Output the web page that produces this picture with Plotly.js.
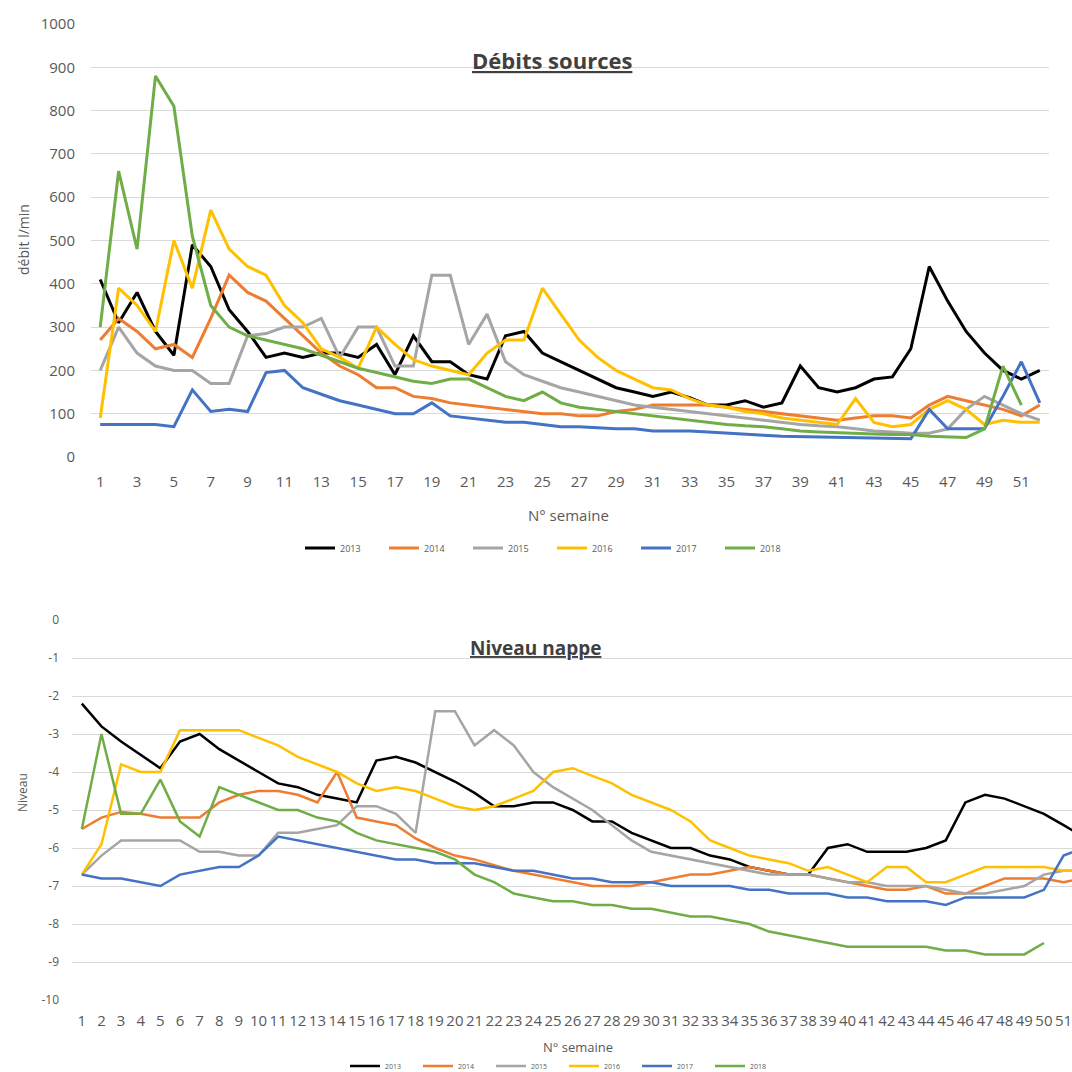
<!DOCTYPE html>
<html>
<head>
<meta charset="utf-8">
<script src="https://cdn.plot.ly/plotly-3.0.1.min.js"></script>
<style>
html, body { margin: 0; padding: 0; overflow: hidden; background: #fff; }
#chart { width: 1100px; height: 1072px; }
</style>
</head>
<body>
<div id="chart"></div>
<script>
// ---- Data ----
const weeks = [1,2,3,4,5,6,7,8,9,10,11,12,13,14,15,16,17,18,19,20,21,22,23,24,25,26,27,28,29,30,31,32,33,34,35,36,37,38,39,40,41,42,43,44,45,46,47,48,49,50,51,52];
const years = ["2013","2014","2015","2016","2017","2018"];

// Débits sources (l/min)
const deb2013 = [410,310,380,290,235,490,440,340,290,230,240,230,240,240,230,260,190,280,220,220,190,180,280,290,240,220,200,180,160,150,140,150,137,120,120,130,115,125,210,160,150,160,180,185,250,440,360,290,240,200,180,200];
const deb2014 = [270,320,290,250,260,230,320,420,380,360,320,280,240,210,190,160,160,140,135,125,120,115,110,105,100,100,95,95,105,110,120,120,120,120,115,110,105,100,95,90,85,90,95,95,90,120,140,130,120,110,95,120];
const deb2015 = [200,300,240,210,200,200,170,170,280,285,300,300,320,230,300,300,210,210,420,420,260,330,220,190,175,160,150,140,130,120,115,110,105,100,95,90,85,80,75,72,70,65,60,58,55,55,65,110,140,120,100,85];
const deb2016 = [90,390,350,290,500,390,570,480,440,420,350,310,250,230,205,300,260,225,210,200,190,240,270,270,390,330,270,230,200,180,160,155,135,120,115,105,100,90,85,80,75,135,80,70,75,110,130,110,75,85,80,80];
const deb2017 = [75,75,75,75,70,155,105,110,105,195,200,160,145,130,120,110,100,100,125,95,90,85,80,80,75,70,70,68,65,65,60,60,60,58,55,53,50,48,47,47,46,45,44,42,42,110,65,65,65,140,220,125];
const deb2018 = [300,660,480,880,810,510,350,300,280,270,260,250,235,220,205,195,185,175,170,180,180,160,140,130,150,125,115,110,105,100,95,90,85,80,75,72,70,65,60,58,56,55,53,52,52,48,47,45,65,210,120,null];

// Niveau nappe
const niv2013 = [-2.2,-2.8,-3.2,-3.55,-3.9,-3.2,-3.0,-3.4,-3.7,-4.0,-4.3,-4.4,-4.6,-4.7,-4.8,-3.7,-3.6,-3.75,-4.0,-4.25,-4.55,-4.9,-4.9,-4.8,-4.8,-5.0,-5.3,-5.3,-5.6,-5.8,-6.0,-6.0,-6.2,-6.3,-6.5,-6.6,-6.7,-6.7,-6.0,-5.9,-6.1,-6.1,-6.1,-6.0,-5.8,-4.8,-4.6,-4.7,-4.9,-5.1,-5.4,-5.7];
const niv2014 = [-5.5,-5.2,-5.05,-5.1,-5.2,-5.2,-5.2,-4.8,-4.6,-4.5,-4.5,-4.6,-4.8,-4.0,-5.2,-5.3,-5.4,-5.75,-6.0,-6.2,-6.3,-6.45,-6.6,-6.7,-6.8,-6.9,-7.0,-7.0,-7.0,-6.9,-6.8,-6.7,-6.7,-6.6,-6.5,-6.6,-6.7,-6.7,-6.8,-6.9,-7.0,-7.1,-7.1,-7.0,-7.2,-7.2,-7.0,-6.8,-6.8,-6.8,-6.9,-6.8];
const niv2015 = [-6.7,-6.2,-5.8,-5.8,-5.8,-5.8,-6.1,-6.1,-6.2,-6.2,-5.6,-5.6,-5.5,-5.4,-4.9,-4.9,-5.1,-5.6,-2.4,-2.4,-3.3,-2.9,-3.3,-4.0,-4.4,-4.7,-5.0,-5.4,-5.8,-6.1,-6.2,-6.3,-6.4,-6.5,-6.6,-6.7,-6.7,-6.7,-6.8,-6.9,-6.9,-7.0,-7.0,-7.0,-7.1,-7.2,-7.2,-7.1,-7.0,-6.7,-6.6,-6.6];
const niv2016 = [-6.7,-5.9,-3.8,-4.0,-4.0,-2.9,-2.9,-2.9,-2.9,-3.1,-3.3,-3.6,-3.8,-4.0,-4.3,-4.5,-4.4,-4.5,-4.7,-4.9,-5.0,-4.9,-4.7,-4.5,-4.0,-3.9,-4.1,-4.3,-4.6,-4.8,-5.0,-5.3,-5.8,-6.0,-6.2,-6.3,-6.4,-6.6,-6.5,-6.7,-6.9,-6.5,-6.5,-6.9,-6.9,-6.7,-6.5,-6.5,-6.5,-6.5,-6.6,-6.6];
const niv2017 = [-6.7,-6.8,-6.8,-6.9,-7.0,-6.7,-6.6,-6.5,-6.5,-6.2,-5.7,-5.8,-5.9,-6.0,-6.1,-6.2,-6.3,-6.3,-6.4,-6.4,-6.4,-6.5,-6.6,-6.6,-6.7,-6.8,-6.8,-6.9,-6.9,-6.9,-7.0,-7.0,-7.0,-7.0,-7.1,-7.1,-7.2,-7.2,-7.2,-7.3,-7.3,-7.4,-7.4,-7.4,-7.5,-7.3,-7.3,-7.3,-7.3,-7.1,-6.2,-6.0];
const niv2018 = [-5.5,-3.0,-5.1,-5.1,-4.2,-5.3,-5.7,-4.4,-4.6,-4.8,-5.0,-5.0,-5.2,-5.3,-5.6,-5.8,-5.9,-6.0,-6.1,-6.3,-6.7,-6.9,-7.2,-7.3,-7.4,-7.4,-7.5,-7.5,-7.6,-7.6,-7.7,-7.8,-7.8,-7.9,-8.0,-8.2,-8.3,-8.4,-8.5,-8.6,-8.6,-8.6,-8.6,-8.6,-8.7,-8.7,-8.8,-8.8,-8.8,-8.5,null,null];

// Tick labels
const topWeekTicks = [1,3,5,7,9,11,13,15,17,19,21,23,25,27,29,31,33,35,37,39,41,43,45,47,49,51];
const debTicks = [0,100,200,300,400,500,600,700,800,900,1000];
const nivTickVals = [0,-1,-2,-3,-4,-5,-6,-7,-8,-9,-10];
const nivTickText = ["0","-1","-2","-3","-4","-5","-6","-7","-8","-9","-10"];

// ---- Styling ----
const colors = ["#000000","#ED7D31","#A5A5A5","#FFC000","#4472C4","#70AD47"];
const debSeries = [deb2013, deb2014, deb2015, deb2016, deb2017, deb2018];
const nivSeries = [niv2013, niv2014, niv2015, niv2016, niv2017, niv2018];

const W = 1100, H = 1072;
const px = v => v / W;
const py = v => 1 - v / H;

const traces = [];
years.forEach((yr, i) => {
  traces.push({
    x: weeks, y: debSeries[i], name: yr, type: 'scatter', mode: 'lines',
    line: {color: colors[i], width: 3}, xaxis: 'x', yaxis: 'y',
    legend: 'legend', connectgaps: false, hoverinfo: 'x+y+name'
  });
});
years.forEach((yr, i) => {
  traces.push({
    x: weeks, y: nivSeries[i], name: yr, type: 'scatter', mode: 'lines',
    line: {color: colors[i], width: 2.5}, xaxis: 'x2', yaxis: 'y2',
    legend: 'legend2', connectgaps: false, hoverinfo: 'x+y+name'
  });
});

const tickFontColor = '#595959';
const gridColor = '#D9D9D9';
const FONT = 'Open Sans, Liberation Sans, sans-serif';

const layout = {
  width: W, height: H,
  margin: {l: 0, r: 0, t: 0, b: 0, autoexpand: false},
  paper_bgcolor: '#fff', plot_bgcolor: '#fff',
  font: {family: FONT, color: tickFontColor},
  showlegend: true,
  xaxis: {
    domain: [px(91), px(1049)], range: [0.5, 52.5], anchor: 'y',
    tickmode: 'array', tickvals: topWeekTicks, ticktext: topWeekTicks.map(String),
    showgrid: false, zeroline: false, showline: false, ticks: '',
    tickangle: 0, tickfont: {size: 15, color: tickFontColor}, ticklabelstandoff: 14
  },
  yaxis: {
    domain: [py(457), py(24)], range: [0, 1000], anchor: 'x',
    tickmode: 'array', tickvals: debTicks, ticktext: debTicks.map(String),
    showgrid: true, gridcolor: gridColor, gridwidth: 1, zeroline: false, showline: false, ticks: '',
    tickfont: {size: 15, color: tickFontColor}, ticklabelstandoff: 15
  },
  xaxis2: {
    domain: [px(72), px(1093)], range: [0.5, 52.5], anchor: 'y2',
    tickmode: 'array', tickvals: weeks, ticktext: weeks.map(String),
    showgrid: false, zeroline: false, showline: false, ticks: '',
    tickangle: 0, tickfont: {size: 15, color: tickFontColor}, ticklabelstandoff: 10
  },
  yaxis2: {
    domain: [py(1000), py(620)], range: [-10, 0], anchor: 'x2',
    tickmode: 'array', tickvals: nivTickVals, ticktext: nivTickText,
    showgrid: true, gridcolor: gridColor, gridwidth: 1, zeroline: false, showline: false, ticks: '',
    tickfont: {size: 12, color: tickFontColor}, ticklabelstandoff: 12
  },
  legend: {
    orientation: 'h', x: px(300), xanchor: 'left', y: py(548), yanchor: 'middle',
    font: {size: 9, color: tickFontColor}, entrywidth: 39, entrywidthmode: 'pixels',
    bgcolor: 'rgba(0,0,0,0)', itemclick: false, itemdoubleclick: false
  },
  legend2: {
    orientation: 'h', x: px(345), xanchor: 'left', y: py(1066), yanchor: 'middle',
    font: {size: 7, color: tickFontColor}, entrywidth: 28, entrywidthmode: 'pixels',
    bgcolor: 'rgba(0,0,0,0)', itemclick: false, itemdoubleclick: false
  },
  annotations: [
    {text: '<b><u>Débits sources</u></b>', xref: 'paper', yref: 'paper', x: px(552), y: py(60),
     showarrow: false, xanchor: 'center', yanchor: 'middle', font: {size: 22, color: '#404040', family: FONT}},
    {text: '<b><u>Niveau nappe</u></b>', xref: 'paper', yref: 'paper', x: px(535), y: py(648),
     showarrow: false, xanchor: 'center', yanchor: 'middle', font: {size: 19, color: '#404040', family: FONT}},
    {text: 'débit l/min', xref: 'paper', yref: 'paper', x: px(24), y: py(240), textangle: -90,
     showarrow: false, xanchor: 'center', yanchor: 'middle', font: {size: 14, color: tickFontColor, family: FONT}},
    {text: 'Niveau', xref: 'paper', yref: 'paper', x: px(22), y: py(793), textangle: -90,
     showarrow: false, xanchor: 'center', yanchor: 'middle', font: {size: 12, color: tickFontColor, family: FONT}},
    {text: 'N° semaine', xref: 'paper', yref: 'paper', x: px(568), y: py(515),
     showarrow: false, xanchor: 'center', yanchor: 'middle', font: {size: 15, color: tickFontColor, family: FONT}},
    {text: 'N° semaine', xref: 'paper', yref: 'paper', x: px(578), y: py(1047),
     showarrow: false, xanchor: 'center', yanchor: 'middle', font: {size: 13, color: tickFontColor, family: FONT}}
  ]
};

Plotly.newPlot('chart', traces, layout, {staticPlot: true, displayModeBar: false});
</script>
</body>
</html>
